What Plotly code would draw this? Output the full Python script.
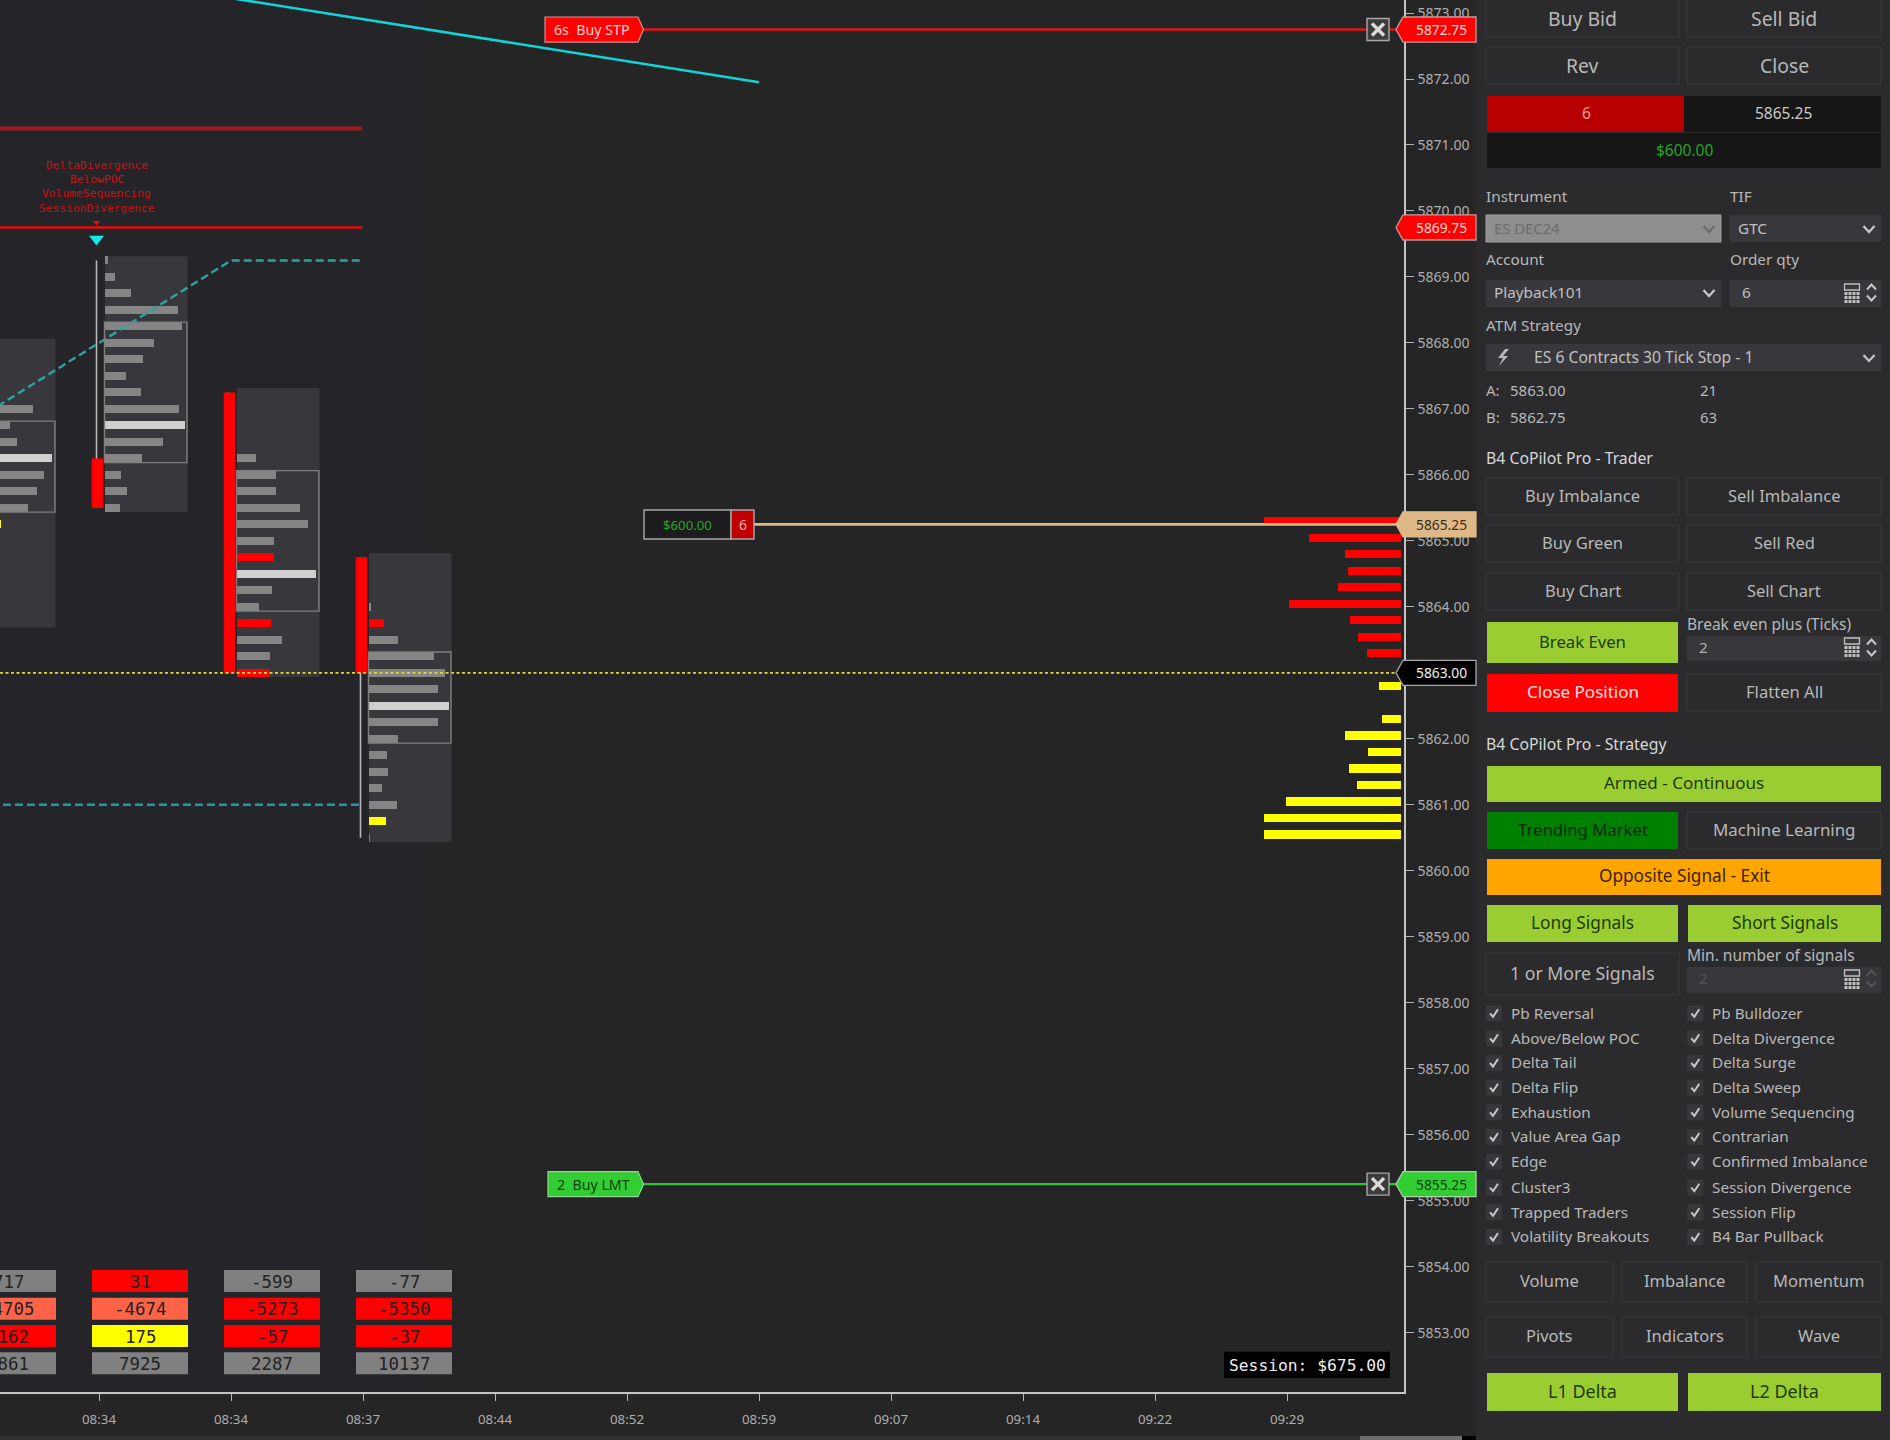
import plotly.graph_objects as go

# ---------- chart data ----------
TIME_LABELS = ["08:34", "08:34", "08:37", "08:44", "08:52", "08:59", "09:07", "09:14", "09:22", "09:29"]
TIME_SLOTS = [1, 2, 3, 4, 5, 6, 7, 8, 9, 10]
PRICE_TICKS = [5853 + k for k in range(21)]

BAR_SLOTS = [0, 1, 2, 3]
BAR_OPEN = [5866.5, 5866.25, 5867.25, 5864.75]
BAR_CLOSE = [5865.5, 5865.5, 5863.0, 5863.0]
BAR_HIGH = [5868.0, 5869.25, 5867.25, 5864.75]
BAR_LOW = [5863.75, 5865.5, 5863.0, 5860.5]
VA_HIGH = [5866.75, 5868.25, 5866.0, 5863.25]
VA_LOW = [5865.5, 5866.25, 5864.0, 5862.0]

P0_PRICES = [5867.0, 5866.75, 5866.5, 5866.25, 5866.0, 5865.75, 5865.5, 5865.25]
P0_VOL = [60, 37, 44, 79, 71, 64, 55, 28]
P0_KIND = ["n", "n", "n", "p", "n", "n", "n", "y"]
P1_PRICES = [5869.25, 5869.0, 5868.75, 5868.5, 5868.25, 5868.0, 5867.75, 5867.5, 5867.25, 5867.0, 5866.75, 5866.5, 5866.25, 5866.0, 5865.75, 5865.5]
P1_VOL = [3, 10, 26, 73, 77, 49, 38, 21, 36, 74, 80, 58, 37, 16, 22, 15]
P1_KIND = ["n", "n", "n", "n", "n", "n", "n", "n", "n", "n", "p", "n", "n", "n", "n", "n"]
P2_PRICES = [5866.25, 5866.0, 5865.75, 5865.5, 5865.25, 5865.0, 5864.75, 5864.5, 5864.25, 5864.0, 5863.75, 5863.5, 5863.25, 5863.0]
P2_VOL = [19, 39, 39, 63, 71, 37, 37, 79, 35, 22, 34, 45, 33, 33]
P2_KIND = ["n", "n", "n", "n", "n", "n", "r", "p", "n", "n", "r", "n", "n", "r"]
P3_PRICES = [5864.0, 5863.75, 5863.5, 5863.25, 5863.0, 5862.75, 5862.5, 5862.25, 5862.0, 5861.75, 5861.5, 5861.25, 5861.0, 5860.75, 5860.5]
P3_VOL = [2, 15, 29, 65, 76, 69, 80, 69, 29, 18, 19, 13, 28, 17, 1]
P3_KIND = ["n", "r", "n", "n", "n", "n", "p", "n", "n", "n", "n", "n", "n", "y", "n"]

ASK_PRICES = [5865.25, 5865.0, 5864.75, 5864.5, 5864.25, 5864.0, 5863.75, 5863.5, 5863.25]
ASK_SIZE = [137, 92, 56, 53, 63, 112, 51, 43, 34]
BID_PRICES = [5862.75, 5862.25, 5862.0, 5861.75, 5861.5, 5861.25, 5861.0, 5860.75, 5860.5]
BID_SIZE = [22, 19, 56, 33, 52, 44, 115, 137, 137]

TEAL_X = [0, 1, 2, 3]
TEAL_Y = [5866.75, 5868.0, 5869.25, 5869.25]
TEAL_LOW_X = [0, 3]
TEAL_LOW_Y = [5861.0, 5861.0]
CYAN_X = [1, 6]
CYAN_Y = [5873.545, 5871.95]
RESIST_DARK = 5871.25
RESIST = 5869.75
LAST_PRICE = 5863.0
STOP_PRICE = 5872.75
ENTRY_PRICE = 5865.25
LIMIT_PRICE = 5855.25
SIGNAL_NAMES = ["DeltaDivergence", "BelowPOC", "VolumeSequencing", "SessionDivergence"]

TABLE = [
    ["717", "31", "-599", "-77"],
    ["-4705", "-4674", "-5273", "-5350"],
    ["-162", "175", "-57", "-37"],
    ["4861", "7925", "2287", "10137"],
]
TABLE_C = [
    ["g", "r", "g", "g"],
    ["t", "t", "r", "r"],
    ["r", "y", "r", "r"],
    ["g", "g", "g", "g"],
]

LEFT_CHECKS = ["Pb Reversal", "Above/Below POC", "Delta Tail", "Delta Flip", "Exhaustion", "Value Area Gap", "Edge", "Cluster3", "Trapped Traders", "Volatility Breakouts"]
RIGHT_CHECKS = ["Pb Bulldozer", "Delta Divergence", "Delta Surge", "Delta Sweep", "Volume Sequencing", "Contrarian", "Confirmed Imbalance", "Session Divergence", "Session Flip", "B4 Bar Pullback"]

# ---------- geometry / style ----------
W, H = 1890, 1440
AX_R, AX_B = 1404, 1392
PX_SLOT = 132.0
TICK1 = 99
PPT = 65.98
SANS = "Noto Sans"
MONO = "DejaVu Sans Mono"
KIND_COL = {"n": "#858585", "p": "#cfcfcf", "r": "#ff0000", "y": "#ffff00"}
CELL_COL = {"g": "#808080", "r": "#ff0000", "t": "#ff6347", "y": "#ffff00"}
BTN_TXT = "#b8b8b8"
PANEL = "#2b2b2d"
LBL = 15.3


def slot(px):
    return (px - TICK1) / PX_SLOT + 1


def px(v):
    return v / W


def py(v):
    return 1 - v / H


def price_at(y):
    return 5872 - (y - 79) / PPT


shapes, annos = [], []


def rect(x0, y0, x1, y1, fill, line=None, lw=1, layer="above"):
    shapes.append(dict(type="rect", xref="paper", yref="paper", x0=px(x0), x1=px(x1), y0=py(y0), y1=py(y1),
                       fillcolor=fill, line=dict(color=line or fill, width=lw if line else 0), layer=layer))


def path(points, color=None, fill=None, lw=1.5, close=False):
    d = "M" + " L".join(f"{px(a):.5f},{py(b):.5f}" for a, b in points) + (" Z" if close else "")
    shapes.append(dict(type="path", xref="paper", yref="paper", path=d, fillcolor=fill or "rgba(0,0,0,0)",
                       line=dict(color=color or "rgba(0,0,0,0)", width=lw if color else 0), layer="above"))


def text(x, y, s, size=LBL, color=BTN_TXT, anchor="center", font=SANS):
    annos.append(dict(xref="paper", yref="paper", x=px(x), y=py(y - 0.7), text=s, showarrow=False, xanchor=anchor,
                      yanchor="middle", font=dict(size=size, color=color, family=font), borderpad=0, borderwidth=0))


def button(x0, y0, x1, y1, s, size=17, fill=None, color=BTN_TXT, dy=0.0):
    rect(x0, y0, x1, y1, fill or PANEL, None if fill else "#38383a", 1.2)
    text((x0 + x1) / 2, (y0 + y1) / 2 - 0.5 + dy, s, size, color)


def chevron(cx, cy, w=10, h=6, color="#c8c8c8", lw=2.2, up=False):
    s = -1 if up else 1
    path([(cx - w / 2, cy - s * h / 2), (cx, cy + s * h / 2), (cx + w / 2, cy - s * h / 2)], color=color, lw=lw)


def calc(cx, cy, color="#c0c0c0"):
    x0, y0 = cx - 7.5, cy - 9
    path([(x0, y0), (x0 + 15, y0), (x0 + 15, y0 + 6), (x0, y0 + 6)], color=color, lw=1.3, close=True)
    for r in range(3):
        for c in range(4):
            a, b = x0 + c * 4, y0 + 8 + r * 4
            rect(a, b, a + 3, b + 3, color)


def spin(cx, cy0, cy1, color="#c8c8c8"):
    chevron(cx, cy0, 9, 5, color, 2, up=True)
    chevron(cx, cy1, 9, 5, color, 2)


# ---------- backgrounds ----------
rect(0, 0, 428, AX_B, "#252428", layer="below")
rect(AX_R, 0, 1476, H, "#252525", layer="below")
rect(0, 1436, 1476, H, "#323234", layer="below")
rect(1360, 1436, 1462, H, "#6e6e6e", layer="below")
rect(1462, 1436, 1476, H, "#000000", layer="below")
rect(1476, 0, W, H, PANEL, layer="below")

# ---------- traces ----------
fig = go.Figure()
profiles = [(P0_PRICES, P0_VOL, P0_KIND), (P1_PRICES, P1_VOL, P1_KIND), (P2_PRICES, P2_VOL, P2_KIND), (P3_PRICES, P3_VOL, P3_KIND)]
START = 6 / PX_SLOT
PROF_W = 82.5 / PX_SLOT
PAD = 0.065
for i, (pr, vol, kind) in zip(BAR_SLOTS, profiles):
    x0 = i + START
    shapes.append(dict(type="rect", xref="x", yref="y", x0=x0, x1=x0 + PROF_W, y0=BAR_LOW[i] - PAD, y1=BAR_HIGH[i] + PAD,
                       fillcolor="#38383c", line=dict(width=0), layer="below"))
    shapes.append(dict(type="rect", xref="x", yref="y", x0=x0 - 0.004, x1=x0 + PROF_W - 0.004, y0=VA_LOW[i] - PAD, y1=VA_HIGH[i] + PAD,
                       fillcolor="rgba(0,0,0,0)", line=dict(color="#7f7f7f", width=1.4), layer="above"))
    fig.add_trace(go.Bar(y=pr, x=[v / PX_SLOT for v in vol], base=[x0] * len(pr), orientation="h", width=0.122,
                         marker=dict(color=[KIND_COL[k] for k in kind], line=dict(width=0)), hoverinfo="skip", showlegend=False))

DEPTH_R = slot(1401)
SHIFT = 0.05
fig.add_trace(go.Bar(y=[p + SHIFT for p in ASK_PRICES], x=[v / PX_SLOT for v in ASK_SIZE], base=[DEPTH_R - v / PX_SLOT for v in ASK_SIZE],
                     orientation="h", width=0.122, marker=dict(color="#ff0000", line=dict(width=0)), hoverinfo="skip", showlegend=False))
fig.add_trace(go.Bar(y=[p + SHIFT for p in BID_PRICES], x=[v / PX_SLOT for v in BID_SIZE], base=[DEPTH_R - v / PX_SLOT for v in BID_SIZE],
                     orientation="h", width=0.122, marker=dict(color="#ffff00", line=dict(width=0)), hoverinfo="skip", showlegend=False))


def line(x, y, color, width, dash="solid"):
    fig.add_trace(go.Scatter(x=x, y=y, mode="lines", line=dict(color=color, width=width, dash=dash), hoverinfo="skip", showlegend=False))


# wicks and bodies
wx, wy, bx, by = [], [], [], []
for i in BAR_SLOTS:
    wx += [i - 2.5 / PX_SLOT] * 2 + [None]
    wy += [BAR_HIGH[i], BAR_LOW[i], None]
    bx += [i - 1.5 / PX_SLOT] * 2 + [None]
    by += [BAR_OPEN[i], BAR_CLOSE[i], None]
line(wx, wy, "#b8b8b8", 1.6)
line(bx, by, "#ff0000", 11.5)

END_RES = slot(362)
line([slot(0), END_RES], [RESIST_DARK, RESIST_DARK], "#a01a1e", 4)
line([slot(0), END_RES], [RESIST, RESIST], "#e80c10", 2.5)
line(TEAL_X[:3] + [END_RES], TEAL_Y, "#2ba59f", 2.4, "8px,4px")
line(TEAL_LOW_X[:1] + [slot(360)], TEAL_LOW_Y, "#1f9ba0", 2.4, "8px,4px")
line(CYAN_X, CYAN_Y, "#10d4d6", 2.6)
line([slot(0), slot(1396)], [LAST_PRICE, LAST_PRICE], "#d8d83a", 1.8, "3px,2.5px")
line([slot(643), slot(1400)], [STOP_PRICE, STOP_PRICE], "#e01414", 2.4)
line([slot(754), slot(1400)], [ENTRY_PRICE, ENTRY_PRICE], "#deb887", 2.6)
line([slot(643), slot(1400)], [LIMIT_PRICE, LIMIT_PRICE], "#2fc43a", 2.4)

fig.add_trace(go.Scatter(x=[1 - 2.5 / PX_SLOT], y=[price_at(239)], mode="markers",
                         marker=dict(symbol="triangle-down", size=13, color="#19e6e8", line=dict(width=0)), hoverinfo="skip", showlegend=False))
fig.add_trace(go.Scatter(x=[1 - 2.5 / PX_SLOT], y=[price_at(222.5)], mode="markers",
                         marker=dict(symbol="triangle-down", size=6, color="#e01010", line=dict(width=0)), hoverinfo="skip", showlegend=False))

# signal text
for n, s in enumerate(SIGNAL_NAMES):
    text(96.5, 165.7 + n * 14.4, s, 11.3, "#c81414", font=MONO)

# delta table
ROW_TOP = [1270, 1297.7, 1325, 1352.3]
for r, rowtop in enumerate(ROW_TOP):
    for i in BAR_SLOTS:
        shapes.append(dict(type="rect", xref="x", yref="paper", x0=i - 7 / PX_SLOT, x1=i + 89 / PX_SLOT, y0=py(rowtop), y1=py(rowtop + 22),
                           fillcolor=CELL_COL[TABLE_C[r][i]], line=dict(width=0), layer="above"))
        annos.append(dict(xref="x", yref="paper", x=i + 41 / PX_SLOT, y=py(rowtop + 11.5), text=TABLE[r][i], showarrow=False, xanchor="center",
                          yanchor="middle", font=dict(size=17.4, color="#222222", family=MONO)))

# ---------- order labels and tags ----------
HH = 0.19


def tag(price, fill, border, s, color):
    d = (f"M{px(1396)},{price} L{px(1403)},{price + HH} L{px(1476)},{price + HH} L{px(1476)},{price - HH} "
         f"L{px(1403)},{price - HH} Z")
    shapes.append(dict(type="path", xref="paper", yref="y", path=d, fillcolor=fill, line=dict(color=border, width=1.3), layer="above"))
    annos.append(dict(xref="paper", yref="y", x=px(1441.5), y=price, text=s, showarrow=False, xanchor="center", yanchor="middle",
                      font=dict(size=13.8, color=color, family=SANS)))


def order_label(x0, price, s, fill, border, color):
    d = (f"M{px(x0)},{price + HH} L{px(638)},{price + HH} L{px(643.5)},{price} L{px(638)},{price - HH} L{px(x0)},{price - HH} Z")
    shapes.append(dict(type="path", xref="paper", yref="y", path=d, fillcolor=fill, line=dict(color=border, width=1.2), layer="above"))
    annos.append(dict(xref="paper", yref="y", x=px(x0 + 7), y=price, text=s, showarrow=False, xanchor="left", yanchor="middle",
                      font=dict(size=14.2, color=color, family=SANS)))


def close_box(price):
    h = 11 / PPT
    shapes.append(dict(type="rect", xref="paper", yref="y", x0=px(1367), x1=px(1389), y0=price - h, y1=price + h,
                       fillcolor="#3c3c3c", line=dict(color="#a8a8a8", width=1.4), layer="above"))
    a = 6 / PPT
    for sgn in (1, -1):
        d = f"M{px(1372)},{price + sgn * a} L{px(1384)},{price - sgn * a}"
        shapes.append(dict(type="path", xref="paper", yref="y", path=d, line=dict(color="#dcdcdc", width=3.4), layer="above"))


tag(STOP_PRICE, "#ff0000", "#c89a9a", f"{STOP_PRICE:.2f}", "#ffdcdc")
tag(RESIST, "#ff0000", "#c89a9a", f"{RESIST:.2f}", "#ffdcdc")
tag(ENTRY_PRICE, "#deb887", "#deb887", f"{ENTRY_PRICE:.2f}", "#3a2c18")
tag(LAST_PRICE, "#000000", "#a8a8a8", f"{LAST_PRICE:.2f}", "#f0f0f0")
tag(LIMIT_PRICE, "#32cd32", "#a8cfa8", f"{LIMIT_PRICE:.2f}", "#0c400c")
order_label(545, STOP_PRICE, "6s  Buy STP", "#ff0000", "#d89090", "#ffd0d0")
order_label(548, LIMIT_PRICE, "2  Buy LMT", "#32cd32", "#90d890", "#0c400c")
close_box(STOP_PRICE)
close_box(LIMIT_PRICE)

rect(644, 510, 731, 539, "#1c1c1c", "#a8a8a8", 1.4)
rect(731, 510, 754, 539, "#c00000", "#a8a8a8", 1.4)
text(687.5, 525.7, "$600.00", 13.2, "#2aa52a")
text(742.5, 525.7, "6", 14, "#f4b0b0")

rect(1224, 1351.7, 1390, 1378, "#000000")
text(1307, 1365.7, "Session: $675.00", 16.3, "#eeeeee", font=MONO)

# ---------- side panel ----------
LX0, LX1, RX0, RX1 = 1486, 1679, 1687, 1881
GREEN = "#9acd32"
DARKTXT = "#1c3a06"
button(LX0, -2, LX1, 37, "Buy Bid", 19.4, dy=2)
button(RX0, -2, RX1, 37, "Sell Bid", 19.4, dy=2)
button(LX0, 47, LX1, 84, "Rev", 19.4, dy=1)
button(RX0, 47, RX1, 84, "Close", 19.4, dy=1)

rect(1487, 96, 1684, 132, "#b80000")
rect(1684, 96, 1881, 132, "#161616")
rect(1487, 133, 1881, 168, "#161616")
text(1586, 113.7, "6", 15.5, "#f0a0a0")
text(1783, 113.7, "5865.25", 15.5, "#c8c8c8")
text(1684, 150.7, "$600.00", 15.5, "#25a525")

text(1486, 197, "Instrument", LBL, anchor="left")
text(1730, 197, "TIF", LBL, anchor="left")
rect(1486, 215, 1721, 242, "#8e8e8e", "#a0a0a0", 1)
text(1494, 228.5, "ES DEC24", 14.8, "#6c6c6c", anchor="left")
chevron(1709, 229, 11, 6, "#6c6c6c")
rect(1730, 215, 1881, 242, "#38383c")
text(1738, 228.5, "GTC", LBL, "#c0c0c0", anchor="left")
chevron(1869, 229, 11, 6)

text(1486, 260, "Account", LBL, anchor="left")
text(1730, 260, "Order qty", LBL, anchor="left")
rect(1486, 280, 1721, 307, "#38383c")
text(1494, 293, "Playback101", LBL, "#c0c0c0", anchor="left")
chevron(1709, 293, 11, 6)
rect(1730, 280, 1881, 307, "#38383c")
text(1742, 293, "6", LBL, "#c0c0c0", anchor="left")
calc(1852, 293)
spin(1871.5, 287, 298)

text(1486, 326, "ATM Strategy", LBL, anchor="left")
rect(1486, 344, 1881, 371, "#38383c")
path([(1505, 349), (1498, 358), (1503, 358), (1499, 366), (1508, 356), (1503, 356), (1509, 349)], fill="#b8b8b8", close=True)
text(1534, 357.5, "ES 6 Contracts 30 Tick Stop - 1", 15.7, "#c0c0c0", anchor="left")
chevron(1869, 358, 11, 6)

text(1486, 391, "A:", 15, anchor="left")
text(1510, 391, "5863.00", 15, anchor="left")
text(1700, 391, "21", 15, anchor="left")
text(1486, 418, "B:", 15, anchor="left")
text(1510, 418, "5862.75", 15, anchor="left")
text(1700, 418, "63", 15, anchor="left")
text(1486, 459, "B4 CoPilot Pro - Trader", 15.8, "#d8d8d8", anchor="left")

button(LX0, 478, LX1, 515, "Buy Imbalance", 16.5)
button(RX0, 478, RX1, 515, "Sell Imbalance", 16.5)
button(LX0, 525, LX1, 562, "Buy Green", 16.5)
button(RX0, 525, RX1, 562, "Sell Red", 16.5)
button(LX0, 573, LX1, 610, "Buy Chart", 16.5)
button(RX0, 573, RX1, 610, "Sell Chart", 16.5)
button(1487, 622, 1678, 663, "Break Even", 16.7, GREEN, DARKTXT)
text(1687, 625, "Break even plus (Ticks)", 15.5, anchor="left")
rect(1687, 636, 1881, 661, "#38383c")
text(1699, 648, "2", LBL, "#b0b0b0", anchor="left")
calc(1852, 647)
spin(1871.5, 642, 653)
button(1487, 674, 1678, 712, "Close Position", 17, "#ff0000", "#ffe0e0")
button(RX0, 674, RX1, 711, "Flatten All", 16.6)

text(1486, 745, "B4 CoPilot Pro - Strategy", 15.8, "#d8d8d8", anchor="left")
button(1487, 766, 1881, 802, "Armed - Continuous", 17, GREEN, DARKTXT)
button(1487, 812, 1678, 849, "Trending Market", 16.7, "#008000", "#062806")
button(RX0, 812, RX1, 849, "Machine Learning", 16.9)
button(1487, 859, 1881, 895, "Opposite Signal - Exit", 17.2, "#ffa500", "#3a2400")
button(1487, 905, 1678, 942, "Long Signals", 17.3, GREEN, DARKTXT)
button(1688, 905, 1881, 942, "Short Signals", 17.3, GREEN, DARKTXT)
button(LX0, 953, LX1, 995, "1 or More Signals", 17.7)
text(1687, 956, "Min. number of signals", 15.5, anchor="left")
rect(1687, 967, 1881, 993, "#38383c")
text(1699, 979, "2", LBL, "#56565a", anchor="left")
calc(1852, 979)
spin(1871.5, 973, 984, "#56565a")

ROWS = [1013.3, 1038.3, 1063, 1087.7, 1112.3, 1137, 1161.7, 1187.7, 1212.3, 1237]
for cx, tx, names in ((1494, 1510.7, LEFT_CHECKS), (1695.3, 1712, RIGHT_CHECKS)):
    for y, s in zip(ROWS, names):
        rect(cx - 8, y - 8, cx + 8, y + 8, "#38383c")
        path([(cx - 4, y), (cx - 1, y + 3.5), (cx + 4, y - 4)], color="#c8c8c8", lw=2)
        text(tx, y, s, LBL, anchor="left")

for (a, b), s1, s2 in (((1486, 1613), "Volume", "Pivots"), ((1622, 1747), "Imbalance", "Indicators"), ((1756, 1881), "Momentum", "Wave")):
    button(a, 1262, b, 1302, s1, 16.5)
    button(a, 1317, b, 1357, s2, 16.5)
button(1487, 1373, 1678, 1411, "L1 Delta", 18, GREEN, DARKTXT)
button(1688, 1373, 1881, 1411, "L2 Delta", 18, GREEN, DARKTXT)

# ---------- layout ----------
fig.update_layout(
    width=W, height=H, autosize=False, barmode="overlay", bargap=0, showlegend=False,
    margin=dict(l=0, r=0, t=0, b=0), paper_bgcolor="#252525", plot_bgcolor="rgba(0,0,0,0)",
    shapes=shapes, annotations=annos,
    xaxis=dict(domain=[0, AX_R / W], range=[slot(0), slot(AX_R)], tickmode="array", tickvals=TIME_SLOTS, ticktext=TIME_LABELS,
               showgrid=False, zeroline=False, showline=True, linecolor="#c4c4c4", linewidth=1.6, ticks="outside", ticklen=7,
               tickwidth=1.4, tickcolor="#b4b4b4", tickfont=dict(size=13.3, color="#aeaeae", family=SANS), ticklabelstandoff=7,
               fixedrange=True),
    yaxis=dict(domain=[(H - AX_B) / H, 1], range=[price_at(AX_B), price_at(0)], side="right", tickmode="array", tickvals=PRICE_TICKS,
               ticktext=[f"{p:.2f}" for p in PRICE_TICKS], showgrid=False, zeroline=False, showline=True, linecolor="#c4c4c4", linewidth=1.6,
               ticks="outside", ticklen=8, tickwidth=1.4, tickcolor="#b4b4b4", tickfont=dict(size=14, color="#aeaeae", family=SANS),
               ticklabelstandoff=1, fixedrange=True),
)
fig.write_html("out.html", config=dict(displayModeBar=False), include_plotlyjs=True,
               post_script="document.documentElement.style.background='#252525';document.body.style.margin='0';document.body.style.background='#252525';")
